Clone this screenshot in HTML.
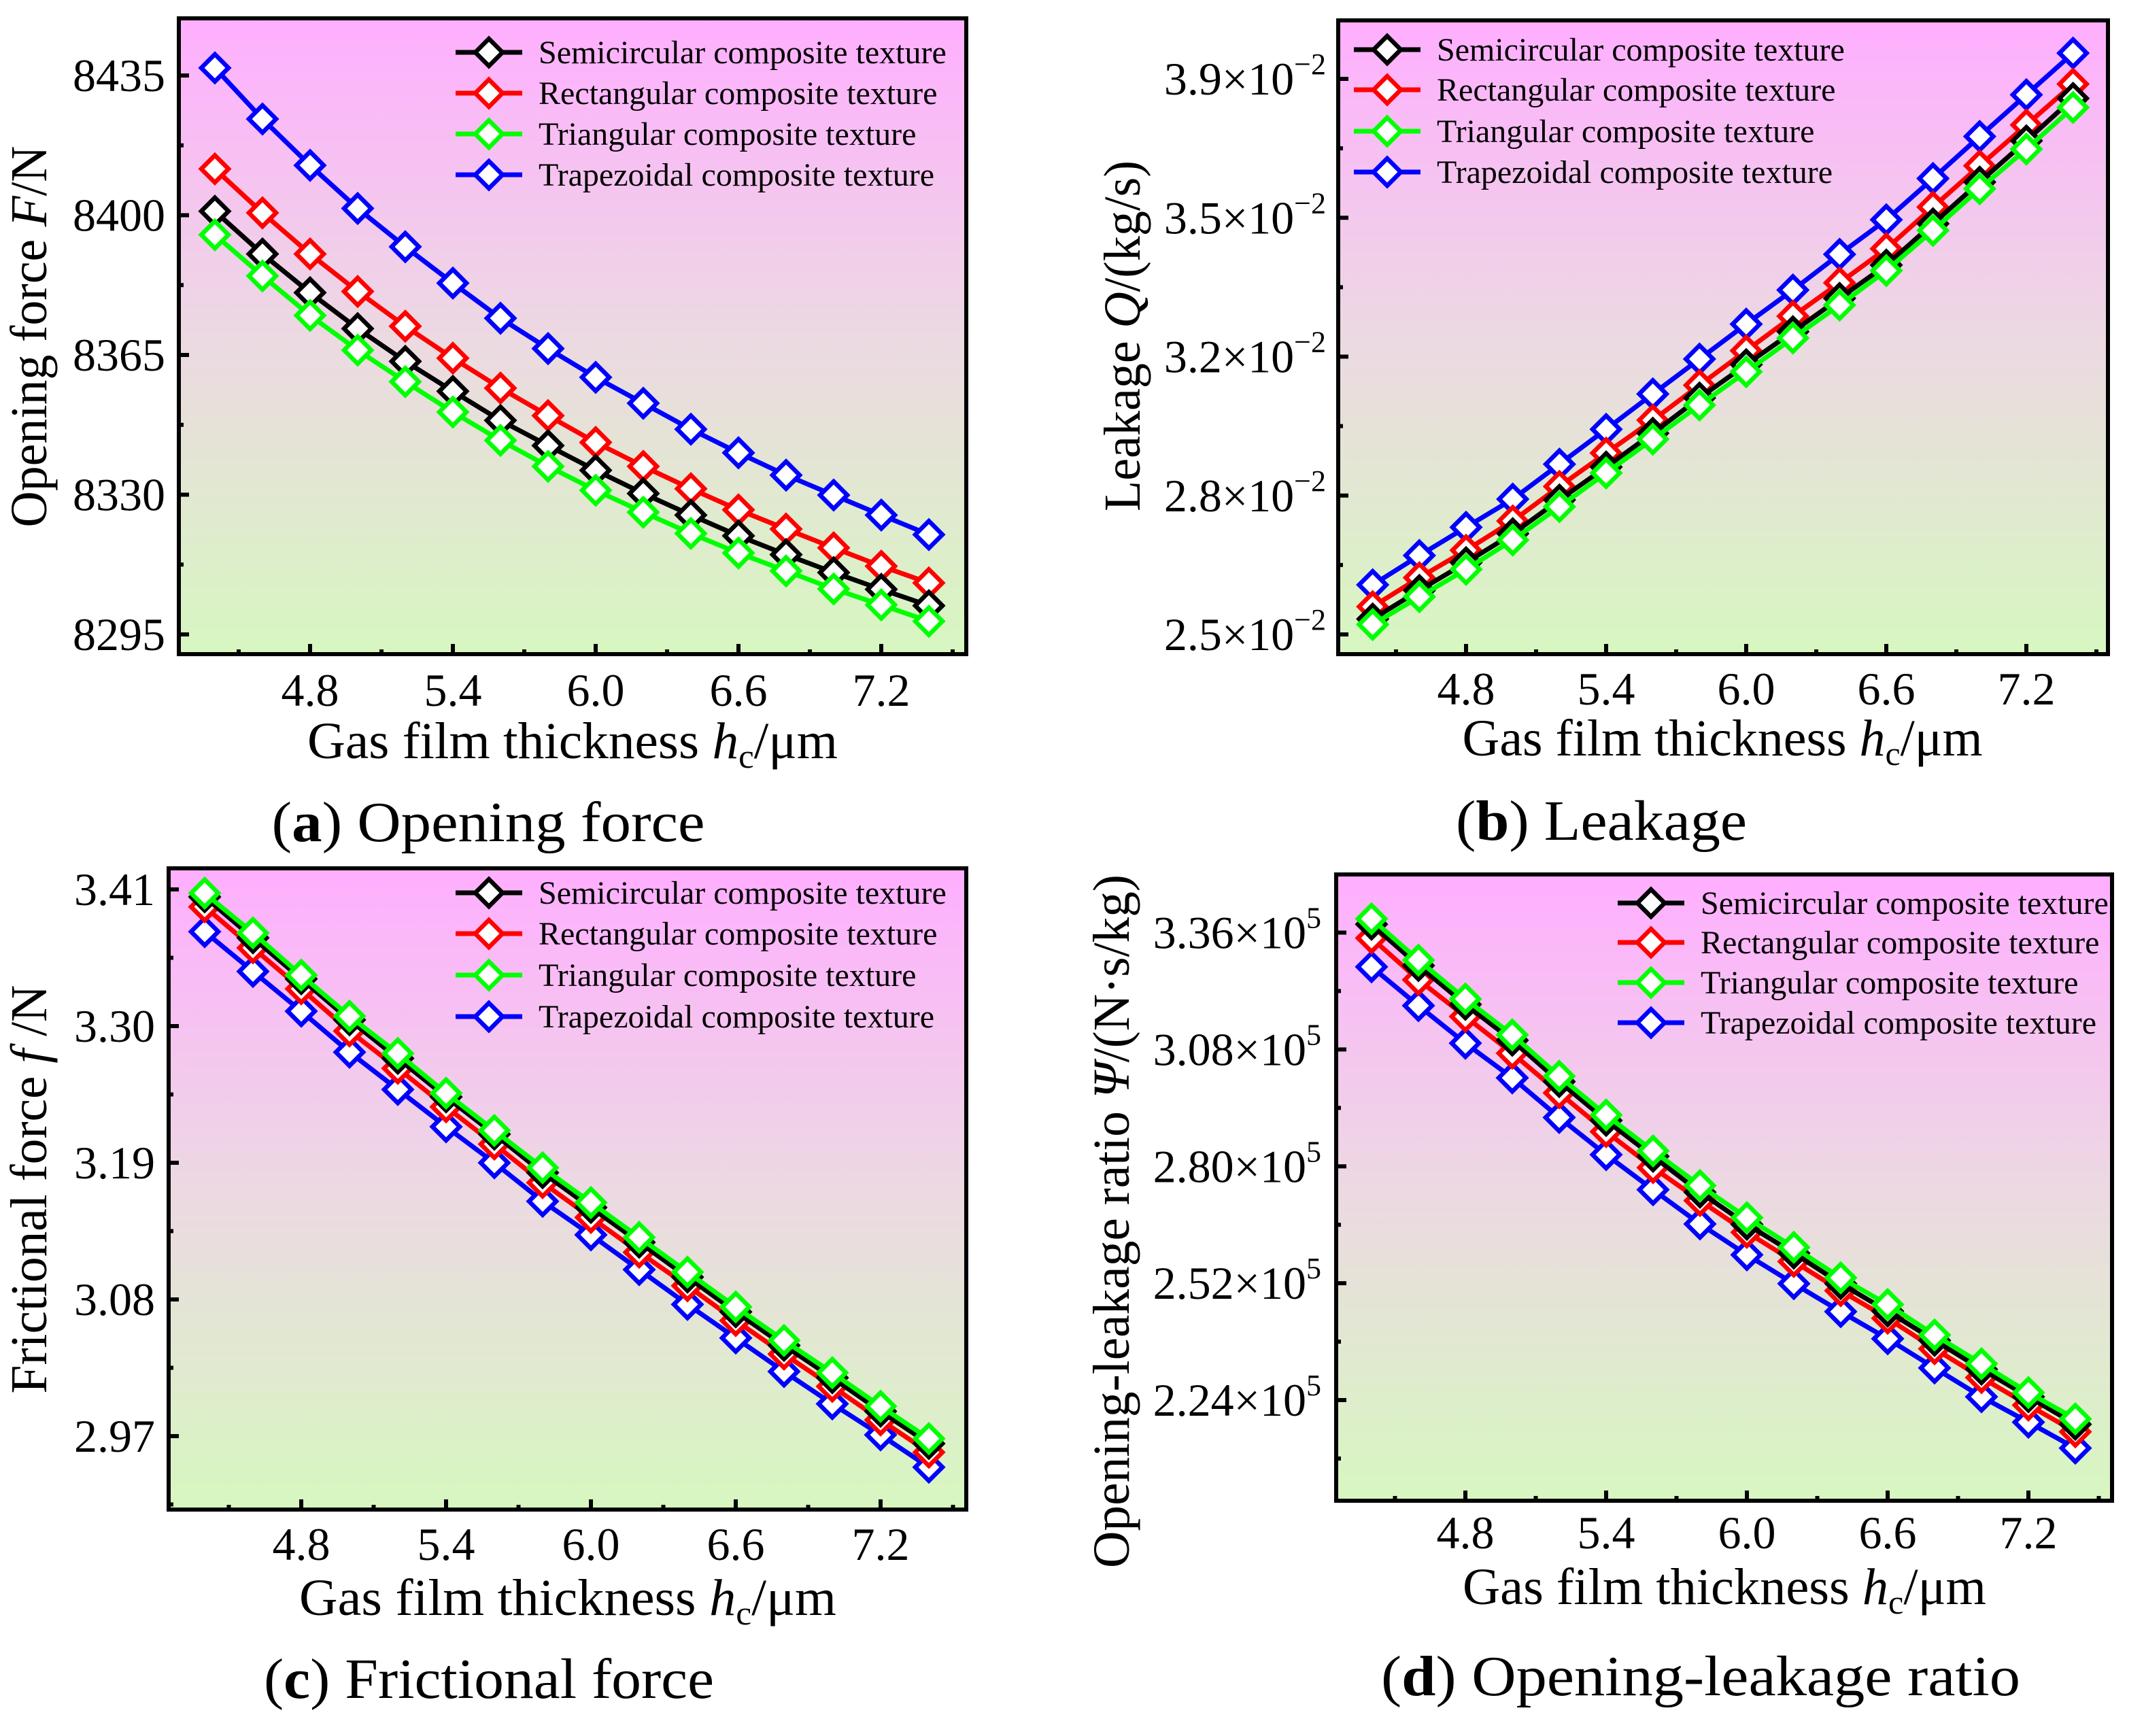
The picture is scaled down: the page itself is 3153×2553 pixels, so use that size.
<!DOCTYPE html>
<html><head><meta charset="utf-8"><style>
html,body{margin:0;padding:0;background:#fff;}
svg, svg text, svg tspan{font-family:"Liberation Serif","Times New Roman",serif;}
</style></head><body>
<svg id="fig" xmlns="http://www.w3.org/2000/svg" width="3153" height="2548" viewBox="0 0 3153 2548" font-family="Liberation Serif, serif">
<defs>
<linearGradient id="bg" x1="0" y1="0" x2="0" y2="1">
<stop offset="0" stop-color="#ffaeff"/>
<stop offset="0.5" stop-color="#ecd9e2"/>
<stop offset="1" stop-color="#d7f7c0"/>
</linearGradient>
</defs>
</svg>
<script>
// Shared x categories
const xVals = [4.4,4.6,4.8,5.0,5.2,5.4,5.6,5.8,6.0,6.2,6.4,6.6,6.8,7.0,7.2,7.4];
const xTicks = [4.8,5.4,6.0,6.6,7.2];
const xTickLabels = ["4.8","5.4","6.0","6.6","7.2"];
const seriesNames = ["Semicircular composite texture","Rectangular composite texture","Triangular composite texture","Trapezoidal composite texture"];

// (a) Opening force
const aSemi = [8401.0,8390.3,8380.6,8371.6,8363.4,8355.9,8348.6,8342.3,8336.1,8330.3,8324.9,8319.7,8315.0,8310.5,8306.3,8302.2];
const aRect = [8411.6,8400.6,8390.3,8380.9,8372.2,8364.2,8356.7,8349.8,8343.1,8337.1,8331.5,8326.2,8321.4,8316.7,8312.1,8307.9];
const aTri  = [8395.1,8384.8,8374.9,8366.2,8358.3,8350.7,8343.6,8337.1,8331.1,8325.6,8320.3,8315.4,8310.9,8306.4,8302.4,8298.3];
const aTrap = [8436.9,8424.1,8412.5,8401.7,8392.1,8383.0,8374.2,8366.6,8359.4,8352.9,8346.4,8340.5,8334.9,8329.9,8324.9,8320.0];
const aTicks = [8295,8330,8365,8400,8435];
const aTickLabels = ["8295","8330","8365","8400","8435"];

// (b) Leakage (×10^-2)
const bSemi = [2.539,2.611,2.681,2.754,2.839,2.922,3.007,3.096,3.180,3.263,3.347,3.431,3.535,3.640,3.744,3.851];
const bRect = [2.570,2.643,2.712,2.786,2.873,2.957,3.040,3.128,3.215,3.302,3.386,3.472,3.577,3.681,3.784,3.887];
const bTri  = [2.525,2.595,2.664,2.738,2.822,2.907,2.992,3.078,3.162,3.247,3.330,3.417,3.518,3.623,3.723,3.828];
const bTrap = [2.625,2.699,2.770,2.841,2.929,3.017,3.106,3.194,3.282,3.368,3.458,3.545,3.649,3.755,3.860,3.965];
const bTicks = [2.5,2.85,3.2,3.55,3.9];
const bTickLabels = ["2.5","2.8","3.2","3.5","3.9"];

// (c) Frictional force
const cSemi = [3.404,3.371,3.338,3.305,3.274,3.243,3.213,3.182,3.154,3.126,3.098,3.070,3.043,3.017,2.990,2.964];
const cRect = [3.396,3.363,3.330,3.296,3.266,3.235,3.205,3.174,3.146,3.118,3.091,3.063,3.036,3.010,2.983,2.957];
const cTri  = [3.407,3.375,3.341,3.308,3.278,3.246,3.216,3.186,3.158,3.130,3.102,3.074,3.047,3.021,2.994,2.968];
const cTrap = [3.376,3.344,3.312,3.279,3.249,3.219,3.190,3.159,3.132,3.104,3.076,3.049,3.022,2.996,2.971,2.945];
const cTicks = [2.97,3.08,3.19,3.30,3.41];
const cTickLabels = ["2.97","3.08","3.19","3.30","3.41"];

// (d) Opening-leakage ratio (×10^5)
const dSemi = [3.380,3.281,3.188,3.102,3.003,2.910,2.824,2.738,2.661,2.592,2.519,2.453,2.383,2.314,2.248,2.182];
const dRect = [3.347,3.247,3.159,3.071,2.976,2.883,2.797,2.718,2.642,2.572,2.502,2.436,2.363,2.294,2.228,2.164];
const dTri  = [3.393,3.294,3.201,3.115,3.016,2.923,2.837,2.754,2.677,2.606,2.533,2.469,2.396,2.327,2.258,2.195];
const dTrap = [3.278,3.185,3.095,3.012,2.917,2.828,2.744,2.662,2.588,2.519,2.452,2.387,2.317,2.248,2.187,2.125];
const dTicks = [2.24,2.52,2.80,3.08,3.36];
const dTickLabels = ["2.24","2.52","2.80","3.08","3.36"];

const NS = "http://www.w3.org/2000/svg";
const FONT = "Liberation Serif, Times New Roman, serif";
const svg = document.getElementById("fig");
function mk(tag, attrs, parent){
  const e = document.createElementNS(NS, tag);
  for (const k in attrs) e.setAttribute(k, attrs[k]);
  if (tag === "text") e.setAttribute("font-family", FONT);
  (parent||svg).appendChild(e);
  return e;
}
const colors = ["#000000","#ff0000","#00ff00","#0000ff"];
const drawOrder = [3,1,0,2];
function diamond(cx, cy, r){ return `M${cx},${cy-r} L${cx+r},${cy} L${cx},${cy+r} L${cx-r},${cy} Z`; }

function panel(p){
  const g = mk("g", {});
  
  
  const X = v => p.x0px + (v - p.x0v) * (p.x1px - p.x0px) / (p.x1v - p.x0v);
  const Y = v => p.y0px + (v - p.y0v) * (p.y1px - p.y0px) / (p.y1v - p.y0v);
  const bgr = mk("rect", {x:p.L, y:p.T, width:p.R-p.L, height:p.B-p.T, fill:"url(#bg)"}, g);
  
  
  drawOrder.forEach(si => {
    const vals = p.series[si];
    const sg = mk("g", {}, g);
    
    
    const pts = vals.map((v,i)=>X(xVals[i]).toFixed(1)+","+Y(v).toFixed(1)).join(" ");
    const ln = mk("polyline", {points:pts, fill:"none", stroke:colors[si], "stroke-width":7, "stroke-linejoin":"round"}, sg);
    
    
    vals.forEach((v,i)=>{
      const m = mk("path", {d:diamond(X(xVals[i]), Y(v), 20), fill:"#fff", stroke:colors[si], "stroke-width":6.5}, sg);
      
      
    });
  });
  const fr = mk("rect", {x:p.L, y:p.T, width:p.R-p.L, height:p.B-p.T, fill:"none", stroke:"#000", "stroke-width":6}, g);
  
  
  const stepX = xTicks[1]-xTicks[0];
  for (let v = xTicks[0]-stepX/2; v <= 7.55; v += stepX/2){
    const major = Math.abs((v - xTicks[0]) / stepX - Math.round((v - xTicks[0]) / stepX)) < 1e-6;
    const xx = X(v);
    if (xx < p.L+3 || xx > p.R-3) continue;
    const t = mk("line", {x1:xx, x2:xx, y1:p.B, y2:p.B-(major?15:7), stroke:"#000", "stroke-width":6}, g);
    
    
  }
  xTicks.forEach((v,i)=>{
    const t = mk("text", {x:X(v), y:p.xLabY, "font-size":68, "text-anchor":"middle"}, g);
    t.textContent = xTickLabels[i];
    
    
  });
  const ys = p.yTicks, stepY = ys[1]-ys[0];
  for (let k = -2; k <= 2*(ys.length-1)+2; k++){
    const v = ys[0] + k*stepY/2;
    const yy = Y(v);
    if (yy < p.T+3 || yy > p.B-3) continue;
    const major = k % 2 === 0;
    const t = mk("line", {x1:p.L, x2:p.L+(major?15:7), y1:yy, y2:yy, stroke:"#000", "stroke-width":6}, g);
    
    
  }
  ys.forEach((v,i)=>{
    const t = mk("text", {x:p.yLabX, y:Y(v)+23, "font-size":68, "text-anchor":"end"}, g);
    
    
    if (p.exp){
      t.textContent = p.yTickLabels[i] + "×10";
      const s = mk("tspan", {dy:-30, "font-size":44}, t);
      s.textContent = p.exp;
    } else t.textContent = p.yTickLabels[i];
  });
  const lg = mk("g", {}, g);
  
  
  seriesNames.forEach((nm,si)=>{
    const ry = p.legY[si];
    const e = mk("g", {}, lg);
    
    
    mk("line", {x1:p.legX0, x2:p.legX0+98, y1:ry, y2:ry, stroke:colors[si], "stroke-width":7}, e);
    mk("path", {d:diamond(p.legX0+49, ry, 20), fill:"#fff", stroke:colors[si], "stroke-width":6.5}, e);
    const t = mk("text", {x:p.legX0+122, y:ry+16, "font-size":48}, e);
    t.textContent = nm;
  });
  const xt = mk("text", {x:p.xtX, y:p.xtY, "font-size":76, "text-anchor":"middle", textLength:p.xtW, lengthAdjust:"spacingAndGlyphs"}, g);
  xt.innerHTML = 'Gas film thickness <tspan font-style="italic">h</tspan><tspan font-size="50" dy="14">c</tspan><tspan dy="-14">/μm</tspan>';
  
  
  const yt = mk("text", {x:0, y:0, "font-size":76, "text-anchor":"middle", transform:`translate(${p.ytX},${p.ytY}) rotate(-90)`, textLength:p.ytW, lengthAdjust:"spacingAndGlyphs"}, g);
  yt.innerHTML = p.ytHTML;
  
  
  const cp = mk("text", {x:p.cX, y:p.cY, "font-size":84, "text-anchor":"middle", textLength:p.cW, lengthAdjust:"spacingAndGlyphs"}, g);
  cp.innerHTML = p.cHTML;
  
  
}

panel({name:"panel-a-opening-force", L:263,T:27,R:1421,B:962,
  x0v:4.8,x1v:7.2,x0px:456,x1px:1296, y0v:8295,y1v:8435,y0px:933,y1px:111,
  series:[aSemi,aRect,aTri,aTrap], yTicks:aTicks, yTickLabels:aTickLabels, yLabX:243,
  xLabY:1038, legX0:670, legY:[77,137,197,257],
  xtX:842, xtY:1115, xtW:780, ytX:68, ytY:495, ytW:561,
  ytHTML:'Opening force <tspan font-style="italic">F</tspan>/N',
  cX:718, cY:1237, cW:637, cHTML:'(<tspan font-weight="bold">a</tspan>) Opening force'});

panel({name:"panel-b-leakage", L:1968,T:30,R:3100,B:962,
  x0v:4.8,x1v:7.2,x0px:2156,x1px:2980, y0v:2.5,y1v:3.9,y0px:933,y1px:116,
  series:[bSemi,bRect,bTri,bTrap], yTicks:bTicks, yTickLabels:bTickLabels, yLabX:1950, exp:"−2",
  xLabY:1036, legX0:1991, legY:[73,132,193,253],
  xtX:2533, xtY:1111, xtW:765, ytX:1676, ytY:494, ytW:516,
  ytHTML:'Leakage <tspan font-style="italic">Q</tspan>/(kg/s)',
  cX:2355, cY:1235, cW:428, cHTML:'(<tspan font-weight="bold">b</tspan>) Leakage'});

panel({name:"panel-c-frictional-force", L:248,T:1277,R:1421,B:2220,
  x0v:4.8,x1v:7.2,x0px:443,x1px:1295, y0v:2.97,y1v:3.41,y0px:2112,y1px:1308,
  series:[cSemi,cRect,cTri,cTrap], yTicks:cTicks, yTickLabels:cTickLabels, yLabX:228,
  xLabY:2294, legX0:670, legY:[1313,1373,1434,1495],
  xtX:835, xtY:2375, xtW:790, ytX:68, ytY:1749, ytW:601,
  ytHTML:'Frictional force <tspan font-style="italic">f</tspan> /N',
  cX:719, cY:2497, cW:662, cHTML:'(<tspan font-weight="bold">c</tspan>) Frictional force'});

panel({name:"panel-d-opening-leakage-ratio", L:1965,T:1286,R:3106,B:2207,
  x0v:4.8,x1v:7.2,x0px:2155,x1px:2983, y0v:2.24,y1v:3.36,y0px:2059,y1px:1371.5,
  series:[dSemi,dRect,dTri,dTrap], yTicks:dTicks, yTickLabels:dTickLabels, yLabX:1943, exp:"5",
  xLabY:2277, legX0:2379, legY:[1328,1386,1445,1504],
  xtX:2536, xtY:2359, xtW:770, ytX:1660, ytY:1796, ytW:1020,
  ytHTML:'Opening-leakage ratio  <tspan font-style="italic">Ψ</tspan>/(N·s/kg)',
  cX:2501, cY:2493, cW:940, cHTML:'(<tspan font-weight="bold">d</tspan>) Opening-leakage ratio'});
</script>
</body></html>
